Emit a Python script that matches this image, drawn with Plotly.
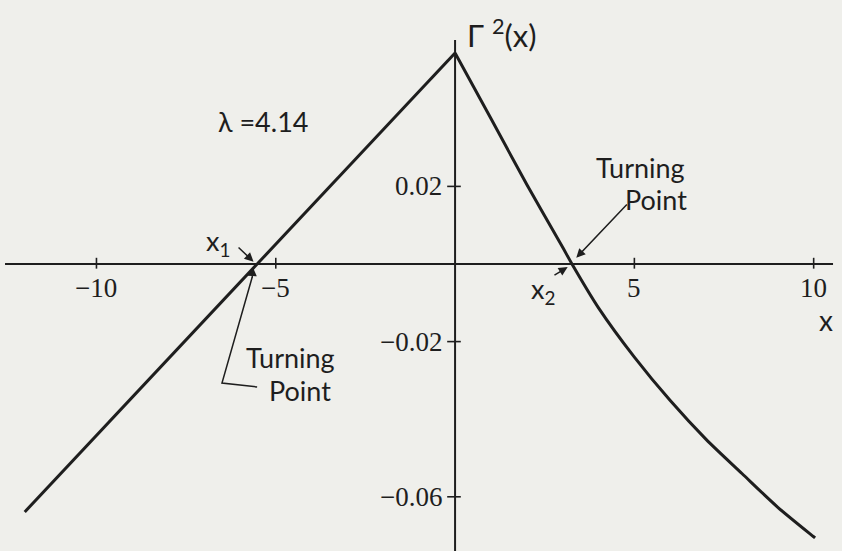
import plotly.graph_objects as go

# Gamma^2(x) for lambda = 4.14
left_x = [-12.0, -10.0, -8.0, -5.52, -4.0, -2.0, 0.0]
left_y = [-0.0639, -0.0442, -0.0245, 0.0, 0.0150, 0.0347, 0.0544]
right_x = [0.0, 1.0, 2.0, 3.0, 3.26, 4.0, 5.0, 6.0, 7.0, 8.0, 9.0, 10.0, 10.04]
right_y = [0.0544, 0.0375, 0.0205, 0.0043, 0.0, -0.0113, -0.0240, -0.0352,
           -0.0452, -0.0540, -0.0627, -0.0703, -0.0706]

x_ticks = [-10, -5, 5, 10]
x_tick_labels = ["\u221210", "\u22125", "5", "10"]
y_ticks = [0.02, -0.02, -0.06]
y_tick_labels = ["0.02", "\u22120.02", "\u22120.06"]

x1, x2 = -5.52, 3.26

BG = "#efefeb"
INK = "#1e1e1e"
SERIF = "Liberation Serif"
SANS = "Lato"

fig = go.Figure()

# linear branch left of the peak, smooth decaying branch to the right
fig.add_trace(go.Scatter(x=left_x, y=left_y, mode="lines",
                         line=dict(color=INK, width=3),
                         hoverinfo="skip", showlegend=False))
fig.add_trace(go.Scatter(x=right_x, y=right_y, mode="lines",
                         line=dict(color=INK, width=3, shape="spline", smoothing=0.8),
                         hoverinfo="skip", showlegend=False))

shapes = []
# axes crossing at the origin
shapes.append(dict(type="line", xref="x", yref="y", x0=-12.55, x1=10.54, y0=0, y1=0,
                   line=dict(color=INK, width=2)))
shapes.append(dict(type="line", xref="x", yref="y", x0=0, x1=0, y0=-0.075, y1=0.0577,
                   line=dict(color=INK, width=2)))
# tick marks
for t in x_ticks:
    shapes.append(dict(type="line", xref="x", yref="y", x0=t, x1=t, y0=-0.0012, y1=0.0016,
                       line=dict(color=INK, width=1.6)))
for t in y_ticks:
    shapes.append(dict(type="line", xref="x", yref="y", x0=-0.22, x1=0.16, y0=t, y1=t,
                       line=dict(color=INK, width=1.6)))
# leader for the left turning-point label
shapes.append(dict(type="path", xref="x", yref="y",
                   path="M -5.52,-0.0317 L -6.50,-0.0307 L -5.66,-0.0035",
                   line=dict(color=INK, width=1.5)))

annotations = []
for t, lab in zip(x_ticks, x_tick_labels):
    annotations.append(dict(x=t, y=-0.0061, xref="x", yref="y", text=lab, showarrow=False,
                            font=dict(family=SERIF, size=27, color=INK),
                            xanchor="center", yanchor="middle"))
for t, lab in zip(y_ticks, y_tick_labels):
    annotations.append(dict(x=-0.30, y=t, xref="x", yref="y", text=lab, showarrow=False,
                            font=dict(family=SERIF, size=27, color=INK),
                            xanchor="right", yanchor="middle"))


def text(x, y, s, size=26, anchor="center"):
    annotations.append(dict(x=x, y=y, xref="x", yref="y", text=s, showarrow=False,
                            font=dict(family=SANS, size=size, color=INK),
                            xanchor=anchor, yanchor="middle"))


def arrow(x, y, ax, ay):
    annotations.append(dict(x=x, y=y, ax=ax, ay=ay, xref="x", yref="y", axref="x", ayref="y",
                            text="", showarrow=True, arrowhead=2, arrowsize=1.2,
                            arrowwidth=1.5, arrowcolor=INK, standoff=0))


text(1.30, 0.0595, "\u0393 <sup>2</sup>(x)", size=31)
text(10.35, -0.0144, "x", size=28)
text(-5.36, 0.0366, "\u03bb =4.14", size=27)
text(-6.61, 0.0056, "x<sub>1</sub>", size=27)
text(2.45, -0.0068, "x<sub>2</sub>", size=27)
text(-4.60, -0.0240, "Turning", size=27)
text(-4.32, -0.0325, "Point", size=27)
text(5.16, 0.0248, "Turning", size=27)
text(5.61, 0.0165, "Point", size=27)

arrow(x1 - 0.1, 0.0006, -6.08, 0.0046)
arrow(x2 - 0.12, -0.0008, 2.73, -0.0031)
arrow(x2 + 0.12, 0.0016, 4.83, 0.0157)
arrow(x1 - 0.12, -0.0008, -5.66, -0.0040)

fig.update_layout(
    width=842, height=551,
    margin=dict(l=0, r=0, t=0, b=0),
    paper_bgcolor=BG, plot_bgcolor=BG,
    xaxis=dict(range=[-12.69, 10.79], visible=False, fixedrange=True),
    yaxis=dict(range=[-0.07397, 0.06804], visible=False, fixedrange=True),
    shapes=shapes, annotations=annotations,
)

fig.write_html("out.html")
